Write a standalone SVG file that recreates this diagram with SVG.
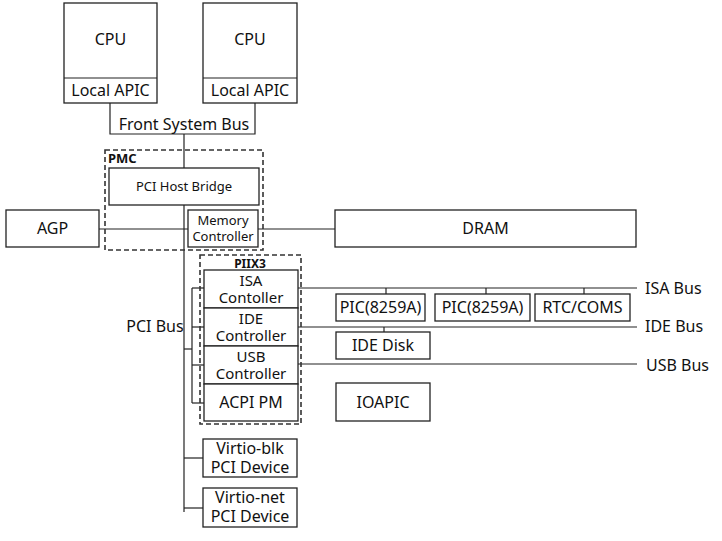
<svg xmlns="http://www.w3.org/2000/svg" width="722" height="541" viewBox="0 0 722 541">
<style>
.b{fill:#fff;stroke:#222;stroke-width:1.3}
.d{fill:none;stroke:#333;stroke-width:1.6;stroke-dasharray:5 3}
.l{fill:none;stroke:#222;stroke-width:1.2}
text{font-family:"Noto Sans","Open Sans",sans-serif;font-size:16px;fill:#111;text-anchor:middle;dominant-baseline:central}
.s{font-size:13px}
.t{font-size:15px}
.bold{font-weight:bold;font-size:13px;text-anchor:start}
.lt{text-anchor:start}
</style>
<rect width="722" height="541" fill="#fff"/>
<g id="connectors">
<polyline class="l" points="110,103 110,134 255,134 255,103"/>
<line class="l" x1="184" y1="134" x2="184" y2="168"/>
<line class="l" x1="184" y1="205" x2="184" y2="512"/>
<line class="l" x1="99" y1="229" x2="188" y2="229"/>
<line class="l" x1="258" y1="229" x2="335" y2="229"/>
<line class="l" x1="184" y1="349" x2="192" y2="349"/>
<line class="l" x1="192" y1="288" x2="192" y2="403"/>
<line class="l" x1="192" y1="288" x2="204" y2="288"/>
<line class="l" x1="192" y1="327" x2="204" y2="327"/>
<line class="l" x1="192" y1="365" x2="204" y2="365"/>
<line class="l" x1="192" y1="403" x2="204" y2="403"/>
<line class="l" x1="184" y1="458" x2="203" y2="458"/>
<line class="l" x1="184" y1="508" x2="203" y2="508"/>
<line class="l" x1="298" y1="288" x2="637" y2="288"/>
<line class="l" x1="298" y1="327" x2="637" y2="327"/>
<line class="l" x1="298" y1="364" x2="637" y2="364"/>
<line class="l" x1="386" y1="288" x2="386" y2="294"/>
<line class="l" x1="486" y1="288" x2="486" y2="294"/>
<line class="l" x1="584" y1="288" x2="584" y2="294"/>
<line class="l" x1="384" y1="327" x2="384" y2="332"/>
</g>
<g id="cpu1">
<rect class="b" x="64" y="3" width="93" height="100"/>
<line class="l" x1="64" y1="78" x2="157" y2="78" stroke-width="2"/>
<text x="110.5" y="39">CPU</text>
<text x="110.5" y="90">Local APIC</text>
</g>
<g id="cpu2">
<rect class="b" x="203" y="3" width="94" height="100"/>
<line class="l" x1="203" y1="78" x2="297" y2="78" stroke-width="2"/>
<text x="250" y="39">CPU</text>
<text x="250" y="90">Local APIC</text>
</g>
<g id="fsb-label"><text x="184" y="124">Front System Bus</text></g>
<g id="pmc">
<rect class="d" x="105" y="150" width="158" height="100"/>
<text class="bold" x="108" y="158">PMC</text>
</g>
<g id="pci-host-bridge">
<rect class="b" x="109" y="168" width="150" height="37"/>
<text class="s" x="184" y="186">PCI Host Bridge</text>
</g>
<g id="memory-controller">
<rect class="b" x="188" y="210" width="70" height="37"/>
<text class="s" x="223" y="220">Memory</text>
<text class="s" x="223" y="236">Controller</text>
</g>
<g id="agp">
<rect class="b" x="6" y="210" width="93" height="37"/>
<text x="52.5" y="228">AGP</text>
</g>
<g id="dram">
<rect class="b" x="335" y="210" width="301" height="37"/>
<text x="485.5" y="228">DRAM</text>
</g>
<g id="piix3">
<rect class="d" x="200" y="255" width="101" height="169"/>
<text class="bold" x="250" y="263" style="text-anchor:middle;font-size:12px">PIIX3</text>
</g>
<g id="isa-controller">
<rect class="b" x="204" y="270" width="94" height="38"/>
<text class="t" x="251" y="280">ISA</text>
<text class="t" x="251" y="297">Contoller</text>
</g>
<g id="ide-controller">
<rect class="b" x="204" y="308" width="94" height="38"/>
<text class="t" x="251" y="318">IDE</text>
<text class="t" x="251" y="335">Controller</text>
</g>
<g id="usb-controller">
<rect class="b" x="204" y="346" width="94" height="38"/>
<text class="t" x="251" y="356">USB</text>
<text class="t" x="251" y="373">Controller</text>
</g>
<g id="acpi-pm">
<rect class="b" x="204" y="384" width="94" height="37"/>
<text x="251" y="402">ACPI PM</text>
</g>
<g id="pci-bus-label"><text x="155" y="326">PCI Bus</text></g>
<g id="pic1">
<rect class="b" x="336" y="294" width="89" height="27"/>
<text x="380.5" y="307">PIC(8259A)</text>
</g>
<g id="pic2">
<rect class="b" x="435" y="294" width="95" height="27"/>
<text x="482.5" y="307">PIC(8259A)</text>
</g>
<g id="rtc">
<rect class="b" x="535" y="294" width="95" height="27"/>
<text x="582.5" y="307">RTC/COMS</text>
</g>
<g id="ide-disk">
<rect class="b" x="336" y="332" width="94" height="27"/>
<text x="383" y="345">IDE Disk</text>
</g>
<g id="ioapic">
<rect class="b" x="336" y="383" width="94" height="38"/>
<text x="383" y="402">IOAPIC</text>
</g>
<g id="bus-labels">
<text class="lt" x="645" y="288">ISA Bus</text>
<text class="lt" x="645" y="326">IDE Bus</text>
<text class="lt" x="646" y="365">USB Bus</text>
</g>
<g id="virtio-blk">
<rect class="b" x="203" y="439" width="94" height="38"/>
<text x="250" y="448">Virtio-blk</text>
<text x="250" y="467">PCI Device</text>
</g>
<g id="virtio-net">
<rect class="b" x="203" y="488" width="94" height="39"/>
<text x="250" y="497">Virtio-net</text>
<text x="250" y="516">PCI Device</text>
</g>
</svg>
